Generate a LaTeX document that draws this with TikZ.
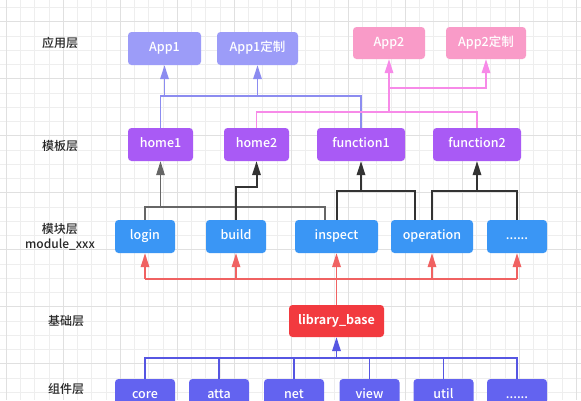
\documentclass[tikz,border=0pt]{standalone}
\usepackage{fontspec}
\setmainfont{Noto Sans CJK SC}[BoldFont={Noto Sans CJK SC Bold}]
\newfontfamily\medfont{Noto Sans CJK SC Medium}
\usetikzlibrary{arrows.meta}

\definecolor{appA}{HTML}{9C9CF8}
\definecolor{appB}{HTML}{F99BC8}
\definecolor{tpl}{HTML}{A95AF5}
\definecolor{mod}{HTML}{3A96F5}
\definecolor{basered}{HTML}{F23A3F}
\definecolor{comp}{HTML}{6363F0}
\definecolor{lineA}{HTML}{8C8CF0}
\definecolor{lineB}{HTML}{F78AE8}
\definecolor{linered}{HTML}{F06262}
\definecolor{linecomp}{HTML}{5656E2}
\definecolor{gridminor}{HTML}{EEEEEE}
\definecolor{gridmajor}{HTML}{E0E0E0}

\begin{document}
\begin{tikzpicture}[x=1pt, y=-1pt,
    box/.style={rounded corners=3.5pt, text=white, inner sep=0pt,
        minimum height=33pt, text height=9pt, text depth=2.5pt,
        font={\medfont\fontsize{12.5}{14}\selectfont}},
    layer/.style={text=black!85, font={\medfont\fontsize{12}{15}\selectfont}, align=center},
    tip/.style={-{Triangle[length=14pt,width=8.5pt]}},
    appAline/.style={draw=lineA, line width=1.7pt},
    appBline/.style={draw=lineB, line width=1.7pt},
    darkline/.style={draw=black!80, line width=2pt},
    greyline/.style={draw=black!60, line width=1.3pt},
    redline/.style={draw=linered, line width=1.7pt},
    compline/.style={draw=linecomp, line width=1.7pt}]

    \useasboundingbox (0,0) rectangle (581,400);
    \fill[white] (0,0) rectangle (581,400);

    % grid
    \foreach \i in {0,...,40}
        \draw[gridminor, line width=0.7pt] ({6.3+14.25*\i},0) -- ({6.3+14.25*\i},400);
    \foreach \j in {0,...,28}
        \draw[gridminor, line width=0.7pt] (0,{7.4+14.25*\j}) -- (581,{7.4+14.25*\j});
    \foreach \i in {0,...,10}
        \draw[gridmajor, line width=0.7pt] ({6.3+57*\i},0) -- ({6.3+57*\i},400);
    \foreach \j in {0,...,7}
        \draw[gridmajor, line width=0.7pt] (0,{21.65+57*\j}) -- (581,{21.65+57*\j});

    % layer names
    \node[layer] (lapp) at (60, 43) {应用层};
    \node[layer] (ltpl) at (60, 145.5) {模板层};
    \node[layer] (lmod) at (60, 236.5) {模块层\\module\_xxx};
    \node[layer] (lbase) at (66, 321) {基础层};
    \node[layer] (lcomp) at (66, 389) {组件层};

    % apps
    \node[box, fill=appA, minimum width=73pt] (app1) at (164.5, 48.5) {App1};
    \node[box, fill=appA, minimum width=81pt] (app1c) at (257.5, 48.5) {App1定制};
    \node[box, fill=appB, minimum width=72pt, minimum height=32pt] (app2) at (389, 43) {App2};
    \node[box, fill=appB, minimum width=80pt, minimum height=32pt] (app2c) at (486, 43) {App2定制};

    % templates
    \node[box, fill=tpl, minimum width=65pt] (home1) at (160.5, 144.5) {home1};
    \node[box, fill=tpl, minimum width=65pt] (home2) at (256.5, 144.5) {home2};
    \node[box, fill=tpl, minimum width=88pt] (function1) at (361, 144.5) {function1};
    \node[box, fill=tpl, minimum width=88pt] (function2) at (477, 144.5) {function2};

    % modules
    \node[box, fill=mod, minimum width=60pt] (login) at (145, 236.5) {login};
    \node[box, fill=mod, minimum width=60pt] (build) at (236, 236.5) {build};
    \node[box, fill=mod, minimum width=83pt] (inspect) at (336.5, 236.5) {inspect};
    \node[box, fill=mod, minimum width=82pt] (operation) at (432, 236.5) {operation};
    \node[box, fill=mod, minimum width=60pt] (moddots) at (517, 236.5) {......};

    % base
    \node[box, fill=basered, minimum width=95pt, minimum height=32pt,
        font={\fontsize{12.5}{14}\selectfont\bfseries}] (base) at (336.5, 321) {library\_base};

    % components
    \node[box, fill=comp, minimum width=60pt] (core) at (145, 395.5) {core};
    \node[box, fill=comp, minimum width=60pt] (atta) at (219, 395.5) {atta};
    \node[box, fill=comp, minimum width=60pt] (net) at (294, 395.5) {net};
    \node[box, fill=comp, minimum width=60pt] (view) at (369.5, 395.5) {view};
    \node[box, fill=comp, minimum width=60pt] (util) at (443.5, 395.5) {util};
    \node[box, fill=comp, minimum width=60pt] (compdots) at (517, 395.5) {......};

    % bus heights
    \coordinate (busA) at (0, 96);
    \coordinate (busB) at (0, 112);
    \coordinate (busBup) at (0, 88);
    \coordinate (busgrey) at (0, 207);
    \coordinate (busbuild) at (0, 187);
    \coordinate (busfunc) at (0, 191);
    \coordinate (busred) at (0, 279);
    \coordinate (buscomp) at (0, 358);
    \coordinate (inspL) at ([xshift=-11.5pt]inspect.north);
    \coordinate (operL) at ([xshift=-17.3pt]operation.north);

    % templates -> apps
    \draw[appAline] (home1.north) |- (function1.north |- busA) -- (function1.north);
    \draw[appAline, tip] (app1.south |- busA) -- (app1.south);
    \draw[appAline, tip] (app1c.south |- busA) -- (app1c.south);
    \draw[appBline] (home2.north) |- (function2.north |- busB) -- (function2.north);
    \draw[appBline, tip] (app2.south |- busB) -- (app2.south);
    \draw[appBline, tip] (app2.south |- busBup) -| (app2c.south);

    % modules -> templates
    \draw[greyline] (login.north) |- (inspL |- busgrey) -- (inspL);
    \draw[greyline, tip] (home1.south |- busgrey) -- (home1.south);
    \draw[darkline, tip] (build.north) |- (home2.south |- busbuild) -- (home2.south);
    \draw[darkline] (inspect.north) |- (operL |- busfunc) -- (operL);
    \draw[darkline, tip] (function1.south |- busfunc) -- (function1.south);
    \draw[darkline] (operation.north) |- (moddots.north |- busfunc) -- (moddots.north);
    \draw[darkline, tip] (function2.south |- busfunc) -- (function2.south);

    % base -> modules
    \draw[redline] (login.south |- busred) -- (moddots.south |- busred);
    \foreach \m in {login, build, operation, moddots}
        \draw[redline, tip] (\m.south |- busred) -- (\m.south);
    \draw[redline, tip] (base.north) -- (inspect.south);

    % components -> base
    \draw[compline] (core.north) |- (compdots.north |- buscomp) -- (compdots.north);
    \foreach \c in {atta, net, view, util}
        \draw[compline] (\c.north) -- (\c.north |- buscomp);
    \draw[compline, tip] (base.south |- buscomp) -- (base.south);
\end{tikzpicture}
\end{document}
